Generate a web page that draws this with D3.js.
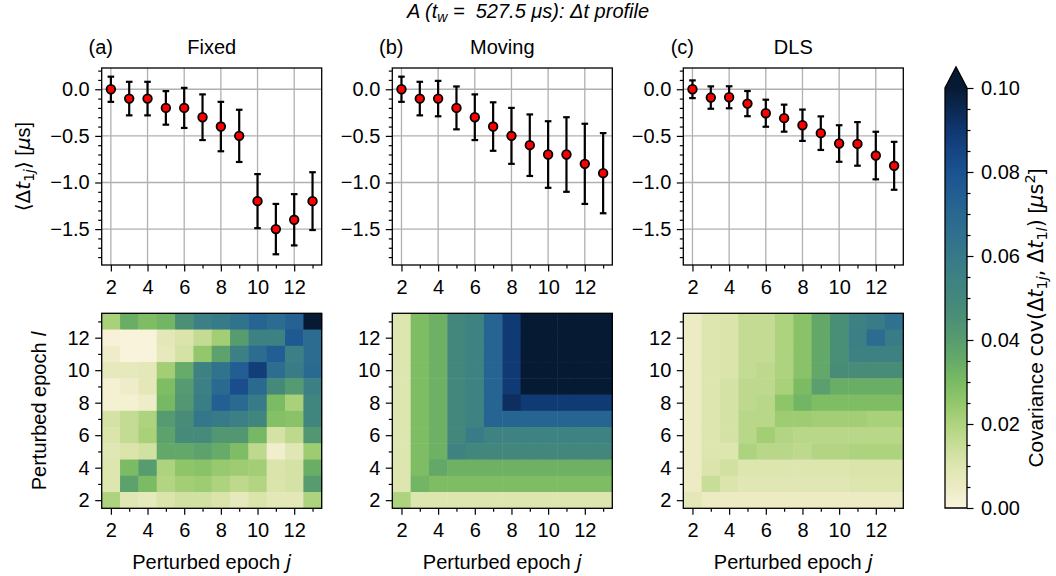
<!DOCTYPE html>
<html><head><meta charset="utf-8">
<script src="https://cdn.jsdelivr.net/npm/d3@7"></script>
<style>
body{margin:0;background:#fff}
text{font-family:"Liberation Sans",Arial,Helvetica,sans-serif;fill:#000}
.m{font-family:"DejaVu Sans",sans-serif}
</style>
</head><body>
<svg id="chart" width="1056" height="576"></svg>
<script>
// ---------------- data ----------------
const epochs = [2,3,4,5,6,7,8,9,10,11,12,13];
const panelNames = ["Fixed","Moving","DLS"];
const panelLetters = ["(a)","(b)","(c)"];
const yTickValues = [0.0,-0.5,-1.0,-1.5];
const epochTickValues = [2,4,6,8,10,12];
const cbarTickValues = [0.00,0.02,0.04,0.06,0.08,0.10];

const meanFixed  = [0,-0.1,-0.1,-0.2,-0.2,-0.3,-0.4,-0.5,-1.2,-1.5,-1.4,-1.2];
const errFixed   = [0.135,0.18,0.18,0.18,0.215,0.245,0.265,0.28,0.29,0.27,0.275,0.31];
const meanMoving = [0,-0.1,-0.1,-0.2,-0.3,-0.4,-0.5,-0.6,-0.7,-0.7,-0.8,-0.9];
const errMoving  = [0.135,0.18,0.19,0.23,0.245,0.26,0.30,0.33,0.357,0.40,0.43,0.43];
const meanDLS    = [0,-0.089,-0.086,-0.154,-0.257,-0.31,-0.386,-0.471,-0.582,-0.586,-0.711,-0.821];
const errDLS     = [0.095,0.12,0.118,0.135,0.145,0.145,0.168,0.18,0.196,0.234,0.255,0.257];

// covariance matrices, rows listed from l = 13 (top) down to l = 2; columns j = 2..13
const covFixed = [
 [0.021,0.034,0.029,0.032,0.045,0.056,0.059,0.064,0.072,0.068,0.073,0.105],
 [0.001,0.000,0.000,0.008,0.011,0.016,0.022,0.040,0.055,0.055,0.077,0.068],
 [0.004,0.000,0.000,0.007,0.012,0.025,0.038,0.056,0.068,0.075,0.056,0.068],
 [0.007,0.007,0.008,0.022,0.035,0.055,0.064,0.075,0.088,0.067,0.058,0.069],
 [0.002,0.004,0.008,0.029,0.041,0.056,0.069,0.082,0.069,0.049,0.041,0.056],
 [0.002,0.002,0.004,0.031,0.042,0.057,0.074,0.069,0.059,0.030,0.021,0.052],
 [0.012,0.016,0.020,0.041,0.047,0.061,0.059,0.056,0.052,0.028,0.027,0.052],
 [0.011,0.016,0.021,0.038,0.048,0.048,0.042,0.042,0.031,0.012,0.017,0.042],
 [0.009,0.011,0.013,0.036,0.036,0.038,0.035,0.029,0.017,0.003,0.009,0.023],
 [0.010,0.030,0.040,0.020,0.026,0.027,0.024,0.023,0.022,0.011,0.012,0.034],
 [0.010,0.038,0.030,0.019,0.022,0.023,0.020,0.017,0.019,0.011,0.012,0.040],
 [0.020,0.009,0.007,0.011,0.013,0.013,0.011,0.007,0.011,0.008,0.008,0.020]
];
const covMoving = [
 [0.010,0.029,0.033,0.050,0.054,0.072,0.089,0.110,0.110,0.110,0.110,0.110],
 [0.010,0.029,0.033,0.050,0.054,0.072,0.089,0.110,0.110,0.110,0.110,0.110],
 [0.010,0.029,0.033,0.050,0.054,0.072,0.089,0.110,0.110,0.110,0.110,0.110],
 [0.010,0.029,0.033,0.050,0.054,0.072,0.089,0.110,0.110,0.110,0.110,0.110],
 [0.010,0.029,0.033,0.050,0.054,0.072,0.089,0.110,0.110,0.110,0.110,0.110],
 [0.010,0.029,0.033,0.050,0.054,0.072,0.093,0.089,0.089,0.089,0.089,0.089],
 [0.010,0.029,0.033,0.050,0.054,0.072,0.072,0.072,0.072,0.072,0.072,0.072],
 [0.010,0.029,0.033,0.050,0.058,0.054,0.054,0.054,0.054,0.054,0.054,0.054],
 [0.010,0.029,0.033,0.054,0.050,0.050,0.050,0.050,0.050,0.050,0.050,0.050],
 [0.010,0.029,0.036,0.033,0.033,0.033,0.033,0.033,0.033,0.033,0.033,0.033],
 [0.010,0.032,0.029,0.029,0.029,0.029,0.029,0.029,0.029,0.029,0.029,0.029],
 [0.020,0.010,0.010,0.010,0.010,0.010,0.010,0.010,0.010,0.010,0.010,0.010]
];
const covDLS = [
 [0.005,0.010,0.011,0.016,0.016,0.020,0.027,0.036,0.046,0.055,0.058,0.065],
 [0.005,0.010,0.011,0.016,0.016,0.020,0.027,0.036,0.046,0.056,0.068,0.058],
 [0.005,0.010,0.011,0.016,0.016,0.020,0.027,0.036,0.046,0.055,0.055,0.055],
 [0.005,0.010,0.011,0.016,0.017,0.020,0.027,0.036,0.047,0.047,0.047,0.047],
 [0.005,0.010,0.012,0.017,0.017,0.021,0.030,0.039,0.034,0.034,0.034,0.034],
 [0.005,0.010,0.012,0.017,0.018,0.026,0.032,0.029,0.029,0.029,0.029,0.029],
 [0.005,0.010,0.012,0.018,0.018,0.023,0.023,0.022,0.022,0.022,0.021,0.021],
 [0.005,0.010,0.012,0.018,0.022,0.019,0.018,0.018,0.018,0.018,0.018,0.018],
 [0.005,0.010,0.010,0.020,0.018,0.018,0.017,0.019,0.019,0.020,0.020,0.020],
 [0.005,0.011,0.013,0.010,0.010,0.010,0.010,0.010,0.010,0.011,0.011,0.011],
 [0.005,0.015,0.011,0.009,0.009,0.009,0.009,0.009,0.009,0.010,0.010,0.010],
 [0.008,0.005,0.005,0.005,0.005,0.005,0.005,0.005,0.005,0.005,0.005,0.005]
];

const cmapStops  = [0,0.005,0.01,0.015,0.02,0.025,0.03,0.035,0.04,0.045,0.05,0.055,0.06,0.065,0.07,0.075,0.08,0.085,0.09,0.095,0.10];
const cmapColors = ["#f9f3dc","#ecebc4","#dee6b0","#c8dd98","#aed37e","#93c76b","#7abb63","#66ab67","#579c6f","#4b9076","#43877c","#3d8183","#367989","#2f718e","#296891","#225d93","#1b5290","#154583","#0f3770","#0b2852","#071a33"];

const means = [meanFixed, meanMoving, meanDLS];
const errs = [errFixed, errMoving, errDLS];
const covs = [covFixed, covMoving, covDLS];

// ---------------- drawing ----------------
const svg = d3.select("#chart");
const color = d3.scaleLinear().domain(cmapStops).range(cmapColors).interpolate(d3.interpolateRgb).clamp(true);

const colX = [101.7, 392.3, 683.3];
const W = 220;
const topY0 = 68, topY1 = 265;
const botY0 = 313.3, botY1 = 508.3;
const FS = 20;
const SUB = 14;
const TMAJ = 6.5, TMIN = 3.5;

function styleAxis(g){
  g.select(".domain").remove();
  g.selectAll(".tick line").attr("stroke","#000").attr("stroke-width",1.2);
  g.selectAll(".tick text").attr("font-size",FS).attr("font-family","Liberation Sans, Arial, sans-serif").attr("fill","#000");
}
function axisPair(g, gen, scale, major, minor, fmt, transform, pad){
  const a = g.append("g").attr("transform",transform)
    .call(gen(scale).tickValues(major).tickSize(TMAJ).tickPadding(pad).tickFormat(fmt));
  styleAxis(a);
  const b = g.append("g").attr("transform",transform)
    .call(gen(scale).tickValues(minor).tickSize(TMIN).tickFormat(""));
  styleAxis(b);
  return a;
}

// title
const title = svg.append("text").attr("x",528).attr("y",18).attr("text-anchor","middle")
  .attr("font-size",FS).attr("font-style","italic");
title.append("tspan").text("A (t");
title.append("tspan").attr("font-size",SUB).attr("dy",4).text("w");
title.append("tspan").attr("dy",-4).text(" =\u00a0 527.5 μs): Δt profile");

const yMinor = d3.range(-18,3).map(v=>v/10).filter(v=>!yTickValues.some(t=>Math.abs(t-v)<1e-9));
const eMinor = [3,5,7,9,11,13];

for(let p=0;p<3;p++){
  const x0 = colX[p];
  // ---- top panel ----
  const xs = d3.scaleLinear().domain([1.5,13.5]).range([x0,x0+W]);
  const ys = d3.scaleLinear().domain([-1.885,0.228]).range([topY1,topY0]);
  const gt = svg.append("g");
  gt.selectAll(".gx").data(epochTickValues).enter().append("line")
    .attr("x1",d=>xs(d)).attr("x2",d=>xs(d)).attr("y1",topY0).attr("y2",topY1)
    .attr("stroke","#b0b0b0").attr("stroke-width",1.3);
  gt.selectAll(".gy").data(yTickValues).enter().append("line")
    .attr("y1",d=>ys(d)).attr("y2",d=>ys(d)).attr("x1",x0).attr("x2",x0+W)
    .attr("stroke","#b0b0b0").attr("stroke-width",1.3);
  const pts = epochs.map((e,i)=>({e, m:means[p][i], s:errs[p][i]}));
  gt.selectAll(".eb").data(pts).enter().append("line")
    .attr("x1",d=>xs(d.e)).attr("x2",d=>xs(d.e))
    .attr("y1",d=>ys(d.m+d.s)).attr("y2",d=>ys(d.m-d.s))
    .attr("stroke","#000").attr("stroke-width",2.2);
  ["t","b"].forEach(k=>{
    gt.selectAll(".cap"+k).data(pts).enter().append("line")
      .attr("x1",d=>xs(d.e)-3.3).attr("x2",d=>xs(d.e)+3.3)
      .attr("y1",d=>ys(k==="t"?d.m+d.s:d.m-d.s)).attr("y2",d=>ys(k==="t"?d.m+d.s:d.m-d.s))
      .attr("stroke","#000").attr("stroke-width",2.2);
  });
  gt.selectAll(".pt").data(pts).enter().append("circle")
    .attr("cx",d=>xs(d.e)).attr("cy",d=>ys(d.m)).attr("r",4.3)
    .attr("fill","#ff0000").attr("stroke","#000").attr("stroke-width",1.8);
  gt.append("rect").attr("x",x0).attr("y",topY0).attr("width",W).attr("height",topY1-topY0)
    .attr("fill","none").attr("stroke","#000").attr("stroke-width",1.3);
  axisPair(gt, d3.axisLeft, ys, yTickValues, yMinor, d3.format(".1f"), `translate(${x0},0)`, 5.5);
  axisPair(gt, d3.axisBottom, xs, epochTickValues, eMinor, d3.format("d"), `translate(0,${topY1})`, 8);

  // panel titles
  svg.append("text").attr("x",x0-1).attr("y",54).attr("text-anchor","middle").attr("font-size",FS).text(panelLetters[p]);
  svg.append("text").attr("x",x0+W/2).attr("y",54).attr("text-anchor","middle").attr("font-size",FS).text(panelNames[p]);

  // ---- heatmap ----
  const hx = d3.scaleLinear().domain([1.5,13.5]).range([x0,x0+W]);
  const hy = d3.scaleLinear().domain([1.5,13.5]).range([botY1,botY0]);
  const gb = svg.append("g");
  const cells = [];
  covs[p].forEach((row,r)=>{
    const l = 13 - r;
    row.forEach((v,c)=>cells.push({l, j:epochs[c], v}));
  });
  gb.selectAll(".cell").data(cells).enter().append("rect")
    .attr("x",d=>hx(d.j-0.5)).attr("y",d=>hy(d.l+0.5))
    .attr("width",d=>hx(d.j+0.5)-hx(d.j-0.5)+0.5)
    .attr("height",d=>hy(d.l-0.5)-hy(d.l+0.5)+0.5)
    .attr("fill",d=>color(d.v));
  gb.append("rect").attr("x",x0).attr("y",botY0).attr("width",W).attr("height",botY1-botY0)
    .attr("fill","none").attr("stroke","#000").attr("stroke-width",1.3);
  axisPair(gb, d3.axisLeft, hy, epochTickValues, eMinor, d3.format("d"), `translate(${x0},0)`, 5.5);
  axisPair(gb, d3.axisBottom, hx, epochTickValues, eMinor, d3.format("d"), `translate(0,${botY1})`, 8);

  const xl = svg.append("text").attr("x",x0+W/2).attr("y",569).attr("text-anchor","middle").attr("font-size",FS);
  xl.append("tspan").text("Perturbed epoch ");
  xl.append("tspan").attr("class","m").attr("font-style","italic").text("j");
}

// y labels
const yl1 = svg.append("text").attr("transform",`translate(30,${(topY0+topY1)/2}) rotate(-90)`)
  .attr("text-anchor","middle").attr("font-size",FS);
yl1.append("tspan").attr("class","m").text("⟨Δ");
yl1.append("tspan").attr("class","m").attr("font-style","italic").text("t");
yl1.append("tspan").attr("class","m").attr("font-size",SUB).attr("dy",4).text("1");
yl1.append("tspan").attr("class","m").attr("font-size",SUB).attr("font-style","italic").text("j");
yl1.append("tspan").attr("class","m").attr("dy",-4).text("⟩");
yl1.append("tspan").text(" [");
yl1.append("tspan").attr("class","m").attr("font-style","italic").text("μ");
yl1.append("tspan").text("s]");

const yl2 = svg.append("text").attr("transform",`translate(46,${(botY0+botY1)/2}) rotate(-90)`)
  .attr("text-anchor","middle").attr("font-size",FS);
yl2.append("tspan").text("Perturbed epoch ");
yl2.append("tspan").attr("class","m").attr("font-style","italic").text("l");

// ---- colorbar ----
const cbX = 945, cbW = 22, cbY0 = 88, cbY1 = 508, cbTip = 67;
const cs = d3.scaleLinear().domain([0,0.10]).range([cbY1,cbY0]);
const defs = svg.append("defs");
const grad = defs.append("linearGradient").attr("id","cbgrad").attr("x1",0).attr("y1",1).attr("x2",0).attr("y2",0);
grad.selectAll("stop").data(cmapStops).enter().append("stop")
  .attr("offset",d=>d/0.10).attr("stop-color",d=>color(d));
svg.append("rect").attr("x",cbX).attr("y",cbY0).attr("width",cbW).attr("height",cbY1-cbY0).attr("fill","url(#cbgrad)");
svg.append("path").attr("d",`M${cbX},${cbY0}L${cbX+cbW/2},${cbTip}L${cbX+cbW},${cbY0}Z`).attr("fill",color(0.10));
svg.append("path").attr("d",`M${cbX},${cbY1}L${cbX},${cbY0}L${cbX+cbW/2},${cbTip}L${cbX+cbW},${cbY0}L${cbX+cbW},${cbY1}Z`)
  .attr("fill","none").attr("stroke","#000").attr("stroke-width",1.3);
const cbMinor = d3.range(0,21).map(v=>v*0.005).filter(v=>!cbarTickValues.some(t=>Math.abs(t-v)<1e-9));
const gc = svg.append("g");
const cbAxis = axisPair(gc, d3.axisRight, cs, cbarTickValues, cbMinor, d3.format(".2f"), `translate(${cbX+cbW},0)`, 6);
cbAxis.selectAll("text").attr("x",14);

const cl = svg.append("text").attr("transform",`translate(1043,318) rotate(-90)`)
  .attr("text-anchor","middle").attr("font-size",20.8);
cl.append("tspan").text("Covariance ");
cl.append("tspan").attr("class","m").text("cov(Δ");
cl.append("tspan").attr("class","m").attr("font-style","italic").text("t");
cl.append("tspan").attr("class","m").attr("font-size",SUB+0.5).attr("dy",4).text("1");
cl.append("tspan").attr("class","m").attr("font-size",SUB+0.5).attr("font-style","italic").text("j");
cl.append("tspan").attr("class","m").attr("dy",-4).text(", Δ");
cl.append("tspan").attr("class","m").attr("font-style","italic").text("t");
cl.append("tspan").attr("class","m").attr("font-size",SUB+0.5).attr("dy",4).text("1");
cl.append("tspan").attr("class","m").attr("font-size",SUB+0.5).attr("font-style","italic").text("l");
cl.append("tspan").attr("class","m").attr("dy",-4).text(")");
cl.append("tspan").text(" [");
cl.append("tspan").attr("class","m").attr("font-style","italic").text("μ");
cl.append("tspan").attr("class","m").text("s");
cl.append("tspan").attr("class","m").attr("font-size",SUB+0.5).attr("dy",-8).text("2");
cl.append("tspan").attr("dy",8).text("]");
</script>
</body></html>
